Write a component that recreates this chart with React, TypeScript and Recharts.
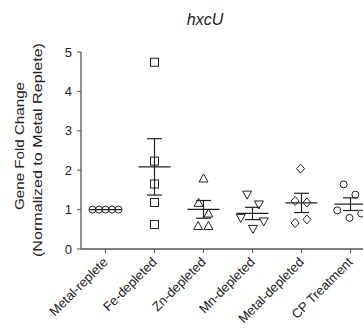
import { ScatterChart, Scatter, XAxis, YAxis, ErrorBar, Label } from 'recharts'

const categories = ['Metal-replete', 'Fe-depleted', 'Zn-depleted', 'Mn-depleted', 'Metal-depleted', 'CP Treatment']

// fold change per replicate
const metalReplete = [1, 1, 1, 1, 1]
const feDepleted = [4.74, 2.23, 1.65, 1.18, 0.62]
const znDepleted = [1.79, 1.17, 0.9, 0.585, 0.585]
const mnDepleted = [1.38, 1.13, 0.79, 0.7, 0.51]
const metalDepleted = [2.04, 1.22, 1.18, 0.66, 0.75]
const cpTreatment = [1.64, 1.38, 0.98, 0.79, 0.9]

// horizontal scatter of the replicates (in category units)
const metalRepleteJitter = [-0.265, -0.133, 0, 0.133, 0.265]
const feDepletedJitter = [0, 0, 0, 0, 0]
const znDepletedJitter = [0, -0.1, 0.1, -0.11, 0.1]
const mnDepletedJitter = [-0.11, 0.13, -0.24, 0.23, 0.01]
const metalDepletedJitter = [-0.02, -0.13, 0.11, -0.13, 0.11]
const cpTreatmentJitter = [-0.14, 0.1, -0.27, -0.02, 0.22]

const yTicks = [0, 1, 2, 3, 4, 5]

type Marker = 'circle' | 'square' | 'triangle' | 'triangleDown' | 'diamond'

const groups: { values: number[]; jitter: number[]; marker: Marker }[] = [
  { values: metalReplete, jitter: metalRepleteJitter, marker: 'circle' },
  { values: feDepleted, jitter: feDepletedJitter, marker: 'square' },
  { values: znDepleted, jitter: znDepletedJitter, marker: 'triangle' },
  { values: mnDepleted, jitter: mnDepletedJitter, marker: 'triangleDown' },
  { values: metalDepleted, jitter: metalDepletedJitter, marker: 'diamond' },
  { values: cpTreatment, jitter: cpTreatmentJitter, marker: 'circle' },
]

const INK = '#222'
const AXIS = '#555'
const FONT = '"Liberation Sans", Arial, sans-serif'

function meanSem(v: number[]) {
  const m = v.reduce((a, b) => a + b, 0) / v.length
  const sd = Math.sqrt(v.reduce((a, b) => a + (b - m) ** 2, 0) / (v.length - 1))
  return { mean: m, sem: sd / Math.sqrt(v.length) }
}

const meanData = groups.map((g, i) => {
  const { mean, sem } = meanSem(g.values)
  return { x: i, y: mean, sem }
})

function markerShape(marker: Marker) {
  return (props: any) => {
    const { cx, cy } = props
    if (cx == null || cy == null) return <g />
    const common = { fill: 'none', stroke: INK, strokeWidth: 1 }
    switch (marker) {
      case 'square':
        return <rect x={cx - 4} y={cy - 4} width={8} height={8} {...common} />
      case 'triangle':
        return <path d={`M${cx},${cy - 4.5}L${cx + 4.5},${cy + 3.5}L${cx - 4.5},${cy + 3.5}Z`} {...common} />
      case 'triangleDown':
        return <path d={`M${cx},${cy + 4.5}L${cx + 4.5},${cy - 3.5}L${cx - 4.5},${cy - 3.5}Z`} {...common} />
      case 'diamond':
        return <path d={`M${cx},${cy - 4.5}L${cx + 4},${cy}L${cx},${cy + 4.5}L${cx - 4},${cy}Z`} {...common} />
      default:
        return <circle cx={cx} cy={cy} r={3.5} {...common} />
    }
  }
}

function MeanLine(props: any) {
  const { cx, cy } = props
  if (cx == null || cy == null) return <g />
  return <line x1={cx - 16} x2={cx + 16} y1={cy} y2={cy} stroke={INK} strokeWidth={1.2} />
}

function CategoryTick({ x, y, payload }: any) {
  return (
    <text
      x={x + 3}
      y={y + 8}
      transform={`rotate(-45, ${x + 3}, ${y + 8})`}
      textAnchor="end"
      fontSize={13}
      fontFamily={FONT}
      fill={INK}
    >
      {categories[payload.value]}
    </text>
  )
}

function YTitle() {
  return (
    <g fontFamily={FONT} fontSize={13} fill={INK}>
      <text x={23.5} y={146} transform="rotate(-90, 23.5, 146)" textAnchor="middle"
        textLength={128} lengthAdjust="spacingAndGlyphs">
        Gene Fold Change
      </text>
      <text x={41.5} y={150} transform="rotate(-90, 41.5, 150)" textAnchor="middle"
        textLength={214} lengthAdjust="spacingAndGlyphs">
        (Normalized to Metal Replete)
      </text>
    </g>
  )
}

export default function App() {
  return (
    <div style={{ position: 'absolute', left: 0, top: 0, width: 363, height: 333, overflow: 'hidden', background: '#fff' }}>
      <div
        style={{
          position: 'absolute', left: 155, top: 11.5, width: 100, textAlign: 'center',
          fontFamily: FONT, fontStyle: 'italic', fontSize: 16, lineHeight: '16px', color: INK,
        }}
      >
        hxcU
      </div>
      <ScatterChart width={380} height={333} margin={{ top: 52, right: 5, bottom: 0, left: 0 }}>
        <XAxis
          type="number"
          dataKey="x"
          domain={[-0.5, 5.5]}
          ticks={[0, 1, 2, 3, 4, 5]}
          interval={0}
          height={84}
          tick={<CategoryTick />}
          tickSize={4}
          axisLine={{ stroke: AXIS, strokeWidth: 1.3 }}
          tickLine={{ stroke: AXIS }}
        />
        <YAxis
          type="number"
          dataKey="y"
          domain={[0, 5]}
          ticks={yTicks}
          width={81}
          tickSize={4}
          tickMargin={5}
          tick={{ fill: INK, fontSize: 13, fontFamily: FONT }}
          axisLine={{ stroke: AXIS, strokeWidth: 1.3 }}
          tickLine={{ stroke: AXIS }}
        >
          <Label content={<YTitle />} />
        </YAxis>
        {groups.map((g, i) => (
          <Scatter
            key={categories[i]}
            data={g.values.map((v, j) => ({ x: i + g.jitter[j], y: v }))}
            shape={markerShape(g.marker)}
            isAnimationActive={false}
          />
        ))}
        <Scatter data={meanData} shape={<MeanLine />} isAnimationActive={false}>
          <ErrorBar dataKey="sem" direction="y" width={7.5} stroke={INK} strokeWidth={1.2} />
        </Scatter>
      </ScatterChart>
    </div>
  )
}
